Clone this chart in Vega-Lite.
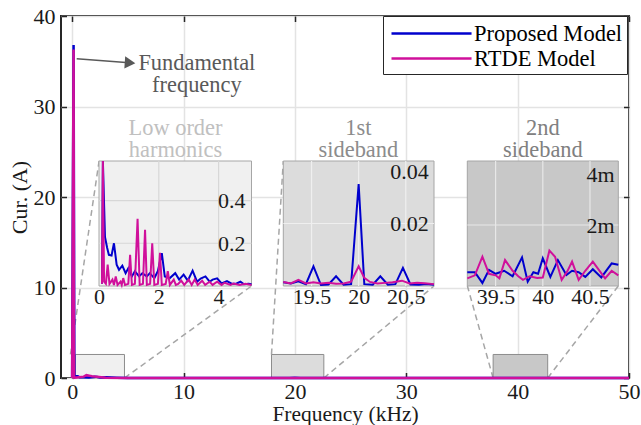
{
  "$schema": "https://vega.github.io/schema/vega-lite/v6.json",
  "width": 568,
  "height": 362,
  "autosize": {"type": "none"},
  "padding": {"left": 61, "top": 16, "right": 12, "bottom": 47},
  "background": "white",
  "config": {
    "view": {"stroke": "#262626", "strokeWidth": 2},
    "font": "Liberation Serif, Times New Roman, DejaVu Serif, serif",
    "axis": {"labelFont": "Liberation Serif, Times New Roman, DejaVu Serif, serif", "titleFont": "Liberation Serif, Times New Roman, DejaVu Serif, serif", "labelColor": "#1a1a1a", "titleColor": "#1a1a1a", "titleFontWeight": "normal"},
    "legend": {"labelFont": "Liberation Serif, Times New Roman, DejaVu Serif, serif"},
    "text": {"font": "Liberation Serif, Times New Roman, DejaVu Serif, serif"}
  },
  "datasets": {
    "main": [
      {"f": 0, "cur": 0.01, "model": "Proposed Model"},
      {"f": 0.13, "cur": 36.8, "model": "Proposed Model"},
      {"f": 0.2, "cur": 0.23, "model": "Proposed Model"},
      {"f": 0.5, "cur": 0.2, "model": "Proposed Model"},
      {"f": 0.67, "cur": 0.08, "model": "Proposed Model"},
      {"f": 1.0, "cur": 0.08, "model": "Proposed Model"},
      {"f": 1.5, "cur": 0.06, "model": "Proposed Model"},
      {"f": 2.1, "cur": 0.15, "model": "Proposed Model"},
      {"f": 2.5, "cur": 0.05, "model": "Proposed Model"},
      {"f": 3.1, "cur": 0.07, "model": "Proposed Model"},
      {"f": 4, "cur": 0.03, "model": "Proposed Model"},
      {"f": 5, "cur": 0.01, "model": "Proposed Model"},
      {"f": 10, "cur": 0.004, "model": "Proposed Model"},
      {"f": 19.5, "cur": 0.006, "model": "Proposed Model"},
      {"f": 20, "cur": 0.033, "model": "Proposed Model"},
      {"f": 20.5, "cur": 0.006, "model": "Proposed Model"},
      {"f": 30, "cur": 0.001, "model": "Proposed Model"},
      {"f": 40, "cur": 0.001, "model": "Proposed Model"},
      {"f": 50, "cur": 0.001, "model": "Proposed Model"},
      {"f": 0, "cur": 0.01, "model": "RTDE Model"},
      {"f": 0.13, "cur": 36.3, "model": "RTDE Model"},
      {"f": 0.17, "cur": 0.02, "model": "RTDE Model"},
      {"f": 1.04, "cur": 0.15, "model": "RTDE Model"},
      {"f": 1.29, "cur": 0.315, "model": "RTDE Model"},
      {"f": 1.54, "cur": 0.26, "model": "RTDE Model"},
      {"f": 1.78, "cur": 0.2, "model": "RTDE Model"},
      {"f": 2.04, "cur": 0.155, "model": "RTDE Model"},
      {"f": 3, "cur": 0.03, "model": "RTDE Model"},
      {"f": 5, "cur": 0.005, "model": "RTDE Model"},
      {"f": 20, "cur": 0.006, "model": "RTDE Model"},
      {"f": 50, "cur": 0.001, "model": "RTDE Model"}
    ],
    "low": [
      {"f": 0.1, "cur": 0.01, "model": "Proposed Model"},
      {"f": 0.13, "cur": 36.8, "model": "Proposed Model"},
      {"f": 0.2, "cur": 0.23, "model": "Proposed Model"},
      {"f": 0.27, "cur": 0.18, "model": "Proposed Model"},
      {"f": 0.33, "cur": 0.146, "model": "Proposed Model"},
      {"f": 0.42, "cur": 0.143, "model": "Proposed Model"},
      {"f": 0.5, "cur": 0.2, "model": "Proposed Model"},
      {"f": 0.59, "cur": 0.1, "model": "Proposed Model"},
      {"f": 0.67, "cur": 0.076, "model": "Proposed Model"},
      {"f": 0.78, "cur": 0.095, "model": "Proposed Model"},
      {"f": 0.89, "cur": 0.06, "model": "Proposed Model"},
      {"f": 0.98, "cur": 0.083, "model": "Proposed Model"},
      {"f": 1.1, "cur": 0.045, "model": "Proposed Model"},
      {"f": 1.2, "cur": 0.069, "model": "Proposed Model"},
      {"f": 1.34, "cur": 0.045, "model": "Proposed Model"},
      {"f": 1.45, "cur": 0.06, "model": "Proposed Model"},
      {"f": 1.6, "cur": 0.045, "model": "Proposed Model"},
      {"f": 1.7, "cur": 0.06, "model": "Proposed Model"},
      {"f": 1.85, "cur": 0.036, "model": "Proposed Model"},
      {"f": 1.97, "cur": 0.07, "model": "Proposed Model"},
      {"f": 2.1, "cur": 0.154, "model": "Proposed Model"},
      {"f": 2.2, "cur": 0.045, "model": "Proposed Model"},
      {"f": 2.37, "cur": 0.037, "model": "Proposed Model"},
      {"f": 2.55, "cur": 0.06, "model": "Proposed Model"},
      {"f": 2.68, "cur": 0.03, "model": "Proposed Model"},
      {"f": 2.83, "cur": 0.053, "model": "Proposed Model"},
      {"f": 2.97, "cur": 0.025, "model": "Proposed Model"},
      {"f": 3.13, "cur": 0.072, "model": "Proposed Model"},
      {"f": 3.28, "cur": 0.02, "model": "Proposed Model"},
      {"f": 3.4, "cur": 0.035, "model": "Proposed Model"},
      {"f": 3.56, "cur": 0.045, "model": "Proposed Model"},
      {"f": 3.7, "cur": 0.02, "model": "Proposed Model"},
      {"f": 3.8, "cur": 0.03, "model": "Proposed Model"},
      {"f": 3.95, "cur": 0.036, "model": "Proposed Model"},
      {"f": 4.1, "cur": 0.012, "model": "Proposed Model"},
      {"f": 4.28, "cur": 0.023, "model": "Proposed Model"},
      {"f": 4.45, "cur": 0.01, "model": "Proposed Model"},
      {"f": 4.6, "cur": 0.012, "model": "Proposed Model"},
      {"f": 4.73, "cur": 0.02, "model": "Proposed Model"},
      {"f": 4.85, "cur": 0.008, "model": "Proposed Model"},
      {"f": 5.0, "cur": 0.01, "model": "Proposed Model"},
      {"f": 5.1, "cur": 0.008, "model": "Proposed Model"},
      {"f": 0.1, "cur": 0.01, "model": "RTDE Model"},
      {"f": 0.13, "cur": 36.3, "model": "RTDE Model"},
      {"f": 0.17, "cur": 0.02, "model": "RTDE Model"},
      {"f": 0.23, "cur": 0.01, "model": "RTDE Model"},
      {"f": 0.29, "cur": 0.1, "model": "RTDE Model"},
      {"f": 0.35, "cur": 0.01, "model": "RTDE Model"},
      {"f": 0.45, "cur": 0.03, "model": "RTDE Model"},
      {"f": 0.5, "cur": 0.005, "model": "RTDE Model"},
      {"f": 0.56, "cur": 0.045, "model": "RTDE Model"},
      {"f": 0.62, "cur": 0.005, "model": "RTDE Model"},
      {"f": 0.72, "cur": 0.02, "model": "RTDE Model"},
      {"f": 0.76, "cur": 0.005, "model": "RTDE Model"},
      {"f": 0.81, "cur": 0.037, "model": "RTDE Model"},
      {"f": 0.87, "cur": 0.005, "model": "RTDE Model"},
      {"f": 0.98, "cur": 0.01, "model": "RTDE Model"},
      {"f": 1.04, "cur": 0.146, "model": "RTDE Model"},
      {"f": 1.1, "cur": 0.005, "model": "RTDE Model"},
      {"f": 1.2, "cur": 0.01, "model": "RTDE Model"},
      {"f": 1.29, "cur": 0.315, "model": "RTDE Model"},
      {"f": 1.36, "cur": 0.005, "model": "RTDE Model"},
      {"f": 1.47, "cur": 0.01, "model": "RTDE Model"},
      {"f": 1.54, "cur": 0.263, "model": "RTDE Model"},
      {"f": 1.6, "cur": 0.005, "model": "RTDE Model"},
      {"f": 1.71, "cur": 0.01, "model": "RTDE Model"},
      {"f": 1.78, "cur": 0.2, "model": "RTDE Model"},
      {"f": 1.85, "cur": 0.005, "model": "RTDE Model"},
      {"f": 1.97, "cur": 0.01, "model": "RTDE Model"},
      {"f": 2.04, "cur": 0.155, "model": "RTDE Model"},
      {"f": 2.1, "cur": 0.005, "model": "RTDE Model"},
      {"f": 2.23, "cur": 0.01, "model": "RTDE Model"},
      {"f": 2.3, "cur": 0.069, "model": "RTDE Model"},
      {"f": 2.37, "cur": 0.005, "model": "RTDE Model"},
      {"f": 2.5, "cur": 0.03, "model": "RTDE Model"},
      {"f": 2.57, "cur": 0.005, "model": "RTDE Model"},
      {"f": 2.65, "cur": 0.01, "model": "RTDE Model"},
      {"f": 2.75, "cur": 0.025, "model": "RTDE Model"},
      {"f": 2.85, "cur": 0.005, "model": "RTDE Model"},
      {"f": 3.0, "cur": 0.03, "model": "RTDE Model"},
      {"f": 3.1, "cur": 0.005, "model": "RTDE Model"},
      {"f": 3.2, "cur": 0.03, "model": "RTDE Model"},
      {"f": 3.3, "cur": 0.005, "model": "RTDE Model"},
      {"f": 3.45, "cur": 0.025, "model": "RTDE Model"},
      {"f": 3.55, "cur": 0.005, "model": "RTDE Model"},
      {"f": 3.7, "cur": 0.02, "model": "RTDE Model"},
      {"f": 3.8, "cur": 0.005, "model": "RTDE Model"},
      {"f": 3.95, "cur": 0.02, "model": "RTDE Model"},
      {"f": 4.1, "cur": 0.005, "model": "RTDE Model"},
      {"f": 4.2, "cur": 0.015, "model": "RTDE Model"},
      {"f": 4.4, "cur": 0.005, "model": "RTDE Model"},
      {"f": 4.5, "cur": 0.012, "model": "RTDE Model"},
      {"f": 4.7, "cur": 0.005, "model": "RTDE Model"},
      {"f": 4.9, "cur": 0.01, "model": "RTDE Model"},
      {"f": 5.1, "cur": 0.005, "model": "RTDE Model"}
    ],
    "sb1": [
      {"f": 19.2, "cur": 0.0012, "model": "Proposed Model"},
      {"f": 19.28, "cur": 0.0008, "model": "Proposed Model"},
      {"f": 19.36, "cur": 0.0015, "model": "Proposed Model"},
      {"f": 19.44, "cur": 0.0006, "model": "Proposed Model"},
      {"f": 19.52, "cur": 0.0063, "model": "Proposed Model"},
      {"f": 19.6, "cur": 0.0003, "model": "Proposed Model"},
      {"f": 19.68, "cur": 0.0005, "model": "Proposed Model"},
      {"f": 19.76, "cur": 0.0031, "model": "Proposed Model"},
      {"f": 19.84, "cur": 0.0004, "model": "Proposed Model"},
      {"f": 19.92, "cur": 0.0006, "model": "Proposed Model"},
      {"f": 20.0, "cur": 0.0326, "model": "Proposed Model"},
      {"f": 20.06, "cur": 0.0006, "model": "Proposed Model"},
      {"f": 20.15, "cur": 0.0004, "model": "Proposed Model"},
      {"f": 20.23, "cur": 0.0031, "model": "Proposed Model"},
      {"f": 20.31, "cur": 0.0004, "model": "Proposed Model"},
      {"f": 20.39, "cur": 0.0006, "model": "Proposed Model"},
      {"f": 20.47, "cur": 0.0058, "model": "Proposed Model"},
      {"f": 20.55, "cur": 0.0005, "model": "Proposed Model"},
      {"f": 20.64, "cur": 0.0004, "model": "Proposed Model"},
      {"f": 20.72, "cur": 0.0006, "model": "Proposed Model"},
      {"f": 20.8, "cur": 0.0004, "model": "Proposed Model"},
      {"f": 19.2, "cur": 0.0013, "model": "RTDE Model"},
      {"f": 19.28, "cur": 0.0008, "model": "RTDE Model"},
      {"f": 19.36, "cur": 0.002, "model": "RTDE Model"},
      {"f": 19.44, "cur": 0.0008, "model": "RTDE Model"},
      {"f": 19.52, "cur": 0.0012, "model": "RTDE Model"},
      {"f": 19.6, "cur": 0.0008, "model": "RTDE Model"},
      {"f": 19.68, "cur": 0.001, "model": "RTDE Model"},
      {"f": 19.76, "cur": 0.0007, "model": "RTDE Model"},
      {"f": 19.84, "cur": 0.0008, "model": "RTDE Model"},
      {"f": 19.92, "cur": 0.0014, "model": "RTDE Model"},
      {"f": 20.0, "cur": 0.0063, "model": "RTDE Model"},
      {"f": 20.06, "cur": 0.0026, "model": "RTDE Model"},
      {"f": 20.12, "cur": 0.0013, "model": "RTDE Model"},
      {"f": 20.2, "cur": 0.0008, "model": "RTDE Model"},
      {"f": 20.28, "cur": 0.001, "model": "RTDE Model"},
      {"f": 20.36, "cur": 0.0012, "model": "RTDE Model"},
      {"f": 20.46, "cur": 0.0017, "model": "RTDE Model"},
      {"f": 20.54, "cur": 0.0008, "model": "RTDE Model"},
      {"f": 20.62, "cur": 0.001, "model": "RTDE Model"},
      {"f": 20.7, "cur": 0.0009, "model": "RTDE Model"},
      {"f": 20.8, "cur": 0.0006, "model": "RTDE Model"}
    ],
    "sb2": [
      {"f": 39.2, "cur": 0.00045, "model": "Proposed Model"},
      {"f": 39.28, "cur": 0.00045, "model": "Proposed Model"},
      {"f": 39.36, "cur": 0.0001, "model": "Proposed Model"},
      {"f": 39.43, "cur": 0.00053, "model": "Proposed Model"},
      {"f": 39.5, "cur": 0.0004, "model": "Proposed Model"},
      {"f": 39.59, "cur": 0.0005, "model": "Proposed Model"},
      {"f": 39.68, "cur": 0.00032, "model": "Proposed Model"},
      {"f": 39.78, "cur": 0.00094, "model": "Proposed Model"},
      {"f": 39.84, "cur": 0.00014, "model": "Proposed Model"},
      {"f": 39.9, "cur": 0.00045, "model": "Proposed Model"},
      {"f": 39.95, "cur": 0.0004, "model": "Proposed Model"},
      {"f": 40.0, "cur": 0.00091, "model": "Proposed Model"},
      {"f": 40.08, "cur": 0.0003, "model": "Proposed Model"},
      {"f": 40.16, "cur": 0.00085, "model": "Proposed Model"},
      {"f": 40.25, "cur": 0.00036, "model": "Proposed Model"},
      {"f": 40.31, "cur": 0.0005, "model": "Proposed Model"},
      {"f": 40.38, "cur": 0.00045, "model": "Proposed Model"},
      {"f": 40.45, "cur": 0.0003, "model": "Proposed Model"},
      {"f": 40.53, "cur": 0.00055, "model": "Proposed Model"},
      {"f": 40.62, "cur": 0.00028, "model": "Proposed Model"},
      {"f": 40.73, "cur": 0.00074, "model": "Proposed Model"},
      {"f": 40.8, "cur": 0.0007, "model": "Proposed Model"},
      {"f": 39.2, "cur": 0.00025, "model": "RTDE Model"},
      {"f": 39.28, "cur": 0.00035, "model": "RTDE Model"},
      {"f": 39.36, "cur": 0.00096, "model": "RTDE Model"},
      {"f": 39.43, "cur": 0.0004, "model": "RTDE Model"},
      {"f": 39.5, "cur": 0.00035, "model": "RTDE Model"},
      {"f": 39.54, "cur": 0.00025, "model": "RTDE Model"},
      {"f": 39.6, "cur": 0.00085, "model": "RTDE Model"},
      {"f": 39.68, "cur": 0.0005, "model": "RTDE Model"},
      {"f": 39.74, "cur": 0.00032, "model": "RTDE Model"},
      {"f": 39.79, "cur": 0.0002, "model": "RTDE Model"},
      {"f": 39.86, "cur": 0.00032, "model": "RTDE Model"},
      {"f": 39.94, "cur": 0.00026, "model": "RTDE Model"},
      {"f": 40.0, "cur": 0.00028, "model": "RTDE Model"},
      {"f": 40.07, "cur": 0.00116, "model": "RTDE Model"},
      {"f": 40.13, "cur": 0.00096, "model": "RTDE Model"},
      {"f": 40.2, "cur": 0.0002, "model": "RTDE Model"},
      {"f": 40.26, "cur": 0.00048, "model": "RTDE Model"},
      {"f": 40.31, "cur": 0.0008, "model": "RTDE Model"},
      {"f": 40.38, "cur": 0.0002, "model": "RTDE Model"},
      {"f": 40.45, "cur": 0.0005, "model": "RTDE Model"},
      {"f": 40.53, "cur": 0.0008, "model": "RTDE Model"},
      {"f": 40.66, "cur": 0.00025, "model": "RTDE Model"},
      {"f": 40.73, "cur": 0.0005, "model": "RTDE Model"},
      {"f": 40.8, "cur": 0.00035, "model": "RTDE Model"}
    ],
    "connectors": [
      {"x1": -0.15, "y1": 2.6, "x2": 2.42, "y2": 23.98},
      {"x1": 4.7, "y1": 0, "x2": 16.11, "y2": 10.17},
      {"x1": 17.9, "y1": 2.6, "x2": 18.96, "y2": 23.98},
      {"x1": 22.6, "y1": 0, "x2": 32.5, "y2": 10.17},
      {"x1": 37.8, "y1": 0, "x2": 35.49, "y2": 10.17},
      {"x1": 42.7, "y1": 0, "x2": 49.04, "y2": 10.17}
    ],
    "zoomRegions": [
      {"band": "low", "lo": 0.3, "hi": 4.7},
      {"band": "sb1", "lo": 17.9, "hi": 22.6},
      {"band": "sb2", "lo": 37.8, "hi": 42.7}
    ]
  },
  "layer": [
    {
      "layer": [
        {
          "data": {"name": "connectors"},
          "mark": {"type": "rule", "color": "#a6a6a6", "strokeWidth": 1.5, "strokeDash": [6, 4]},
          "encoding": {
            "x": {"field": "x1", "type": "quantitative", "scale": {"domain": [-1, 50], "nice": false, "zero": false},
                  "axis": {"orient": "bottom", "offset": -5.5, "values": [0, 10, 20, 30, 40, 50], "labels": false, "grid": false, "domain": false, "ticks": true, "tickSize": 5.5, "tickColor": "#262626", "tickWidth": 1.5, "title": null}},
            "y": {"field": "y1", "type": "quantitative", "scale": {"domain": [0, 40], "nice": false, "zero": false},
                  "axis": {"orient": "left", "offset": -5.5, "values": [0, 10, 20, 30, 40], "labels": false, "grid": false, "domain": false, "ticks": true, "tickSize": 5.5, "tickColor": "#262626", "tickWidth": 1.5, "title": null}},
            "x2": {"field": "x2"},
            "y2": {"field": "y2"}
          }
        },
        {
          "data": {"name": "zoomRegions"},
          "mark": {"type": "rect", "stroke": "#8c8c8c", "strokeWidth": 1},
          "encoding": {
            "x": {"field": "lo", "type": "quantitative", "scale": {"domain": [-1, 50], "nice": false, "zero": false},
                  "axis": {"orient": "top", "offset": -5.5, "values": [0, 10, 20, 30, 40, 50], "labels": false, "grid": false, "domain": false, "ticks": true, "tickSize": 5.5, "tickColor": "#262626", "tickWidth": 1.5, "title": null}},
            "x2": {"field": "hi"},
            "y": {"datum": 0, "type": "quantitative", "scale": {"domain": [0, 40], "nice": false, "zero": false},
                  "axis": {"orient": "right", "offset": -5.5, "values": [0, 10, 20, 30, 40], "labels": false, "grid": false, "domain": false, "ticks": true, "tickSize": 5.5, "tickColor": "#262626", "tickWidth": 1.5, "title": null}},
            "y2": {"datum": 2.6},
            "fill": {"field": "band", "type": "nominal", "scale": {"domain": ["low", "sb1", "sb2"], "range": ["#f0f0f0", "#dcdcdc", "#c8c8c8"]}, "legend": null}
          }
        },
        {
          "data": {"name": "main"},
          "mark": {"type": "line", "strokeWidth": 2.5},
          "encoding": {
            "x": {"field": "f", "type": "quantitative", "scale": {"domain": [-1, 50], "nice": false, "zero": false},
                  "axis": {"orient": "bottom", "values": [0, 10, 20, 30, 40, 50], "format": "d", "grid": true, "gridColor": "#e3e3e3", "gridWidth": 1.5, "domain": false, "ticks": false, "labelPadding": 3.6, "labelFontSize": 22, "labelFlush": false, "title": "Frequency (kHz)", "titleFontSize": 21.5, "titlePadding": 0.5}},
            "y": {"field": "cur", "type": "quantitative", "scale": {"domain": [0, 40], "nice": false, "zero": false},
                  "axis": {"orient": "left", "values": [0, 10, 20, 30, 40], "format": "d", "grid": true, "gridColor": "#e3e3e3", "gridWidth": 1.5, "domain": false, "ticks": false, "labelPadding": 6, "labelFontSize": 22, "labelFlush": false, "title": "Cur. (A)", "titleFontSize": 22, "titlePadding": 2}},
            "color": {"field": "model", "type": "nominal",
                      "scale": {"domain": ["Proposed Model", "RTDE Model"], "range": ["#0000cd", "#d0109b"]},
                      "legend": {"orient": "none", "legendX": 322, "legendY": 0, "title": null, "symbolType": "M-0.75,0H5.92", "symbolSize": 576, "symbolStrokeWidth": 2.5, "labelFontSize": 22.5, "labelColor": "#000000", "labelOffset": 60, "labelLimit": 400, "padding": 4, "rowPadding": 0, "strokeColor": "#262626", "fillColor": "#ffffff"}}
          }
        },
        {
          "data": {"values": [{}]},
          "mark": {"type": "rule", "color": "#595959", "strokeWidth": 1.5},
          "encoding": {
            "x": {"datum": 0.41, "type": "quantitative", "scale": {"domain": [-1, 50], "nice": false, "zero": false}, "axis": null},
            "y": {"datum": 35.28, "type": "quantitative", "scale": {"domain": [0, 40], "nice": false, "zero": false}, "axis": null},
            "x2": {"datum": 5.13},
            "y2": {"datum": 34.84}
          }
        },
        {
          "data": {"values": [{}]},
          "mark": {"type": "point", "shape": "triangle-right", "size": 150, "angle": 4, "filled": true, "color": "#595959", "opacity": 1},
          "encoding": {
            "x": {"datum": 5.2, "type": "quantitative", "scale": {"domain": [-1, 50], "nice": false, "zero": false}, "axis": null},
            "y": {"datum": 34.83, "type": "quantitative", "scale": {"domain": [0, 40], "nice": false, "zero": false}, "axis": null}
          }
        },
        {
          "data": {"values": [{}]},
          "mark": {"type": "text", "text": ["Fundamental", "frequency"], "fontSize": 22.4, "color": "#595959", "align": "center", "baseline": "middle", "lineHeight": 22},
          "encoding": {
            "x": {"datum": 11.2, "type": "quantitative", "scale": {"domain": [-1, 50], "nice": false, "zero": false}, "axis": null},
            "y": {"datum": 34.85, "type": "quantitative", "scale": {"domain": [0, 40], "nice": false, "zero": false}, "axis": null}
          }
        },
        {
          "data": {"values": [{}]},
          "mark": {"type": "text", "text": ["Low order", "harmonics"], "fontSize": 22.4, "color": "#c0c0c0", "align": "center", "baseline": "middle", "lineHeight": 22},
          "encoding": {
            "x": {"datum": 9.28, "type": "quantitative", "scale": {"domain": [-1, 50], "nice": false, "zero": false}, "axis": null},
            "y": {"datum": 27.6, "type": "quantitative", "scale": {"domain": [0, 40], "nice": false, "zero": false}, "axis": null}
          }
        },
        {
          "data": {"values": [{}]},
          "mark": {"type": "text", "text": ["1st", "sideband"], "fontSize": 22.4, "color": "#8c8c8c", "align": "center", "baseline": "middle", "lineHeight": 22},
          "encoding": {
            "x": {"datum": 25.7, "type": "quantitative", "scale": {"domain": [-1, 50], "nice": false, "zero": false}, "axis": null},
            "y": {"datum": 27.6, "type": "quantitative", "scale": {"domain": [0, 40], "nice": false, "zero": false}, "axis": null}
          }
        },
        {
          "data": {"values": [{}]},
          "mark": {"type": "text", "text": ["2nd", "sideband"], "fontSize": 22.4, "color": "#808080", "align": "center", "baseline": "middle", "lineHeight": 22},
          "encoding": {
            "x": {"datum": 42.27, "type": "quantitative", "scale": {"domain": [-1, 50], "nice": false, "zero": false}, "axis": null},
            "y": {"datum": 27.6, "type": "quantitative", "scale": {"domain": [0, 40], "nice": false, "zero": false}, "axis": null}
          }
        }
      ],
      "resolve": {"axis": {"x": "independent", "y": "independent"}}
    },
    {
      "layer": [
        {
          "data": {"values": [{"band": "low"}]},
          "mark": {"type": "rect", "stroke": "#a6a6a6", "strokeWidth": 1},
          "encoding": {
            "x": {"datum": 0, "type": "quantitative", "scale": {"domain": [0, 5.1], "range": [38, 190.5], "nice": false, "zero": false},
                  "axis": {"orient": "bottom", "offset": -92, "values": [0, 2, 4], "format": "~g", "grid": false, "domain": false, "ticks": false, "labelPadding": 0.5, "labelFontSize": 22, "labelFlush": false, "title": null, "zindex": 1}},
            "x2": {"datum": 5.1},
            "y": {"datum": 0, "type": "quantitative", "scale": {"domain": [0, 0.585], "range": [270, 145], "nice": false, "zero": false, "clamp": true},
                  "axis": {"orient": "left", "offset": -184, "values": [0.2, 0.4], "format": "~g", "grid": false, "domain": false, "ticks": false, "labelPadding": 0, "labelFontSize": 22, "labelFlush": 5, "title": null, "zindex": 1}},
            "y2": {"datum": 0.585},
            "fill": {"field": "band", "type": "nominal", "scale": {"domain": ["low", "sb1", "sb2"], "range": ["#f0f0f0", "#dcdcdc", "#c8c8c8"]}, "legend": null}
          }
        },
        {
          "data": {"values": [{"g": 2}, {"g": 4}]},
          "mark": {"type": "rule", "color": "#d7d7d7", "strokeWidth": 1.2},
          "encoding": {
            "x": {"field": "g", "type": "quantitative", "scale": {"domain": [0, 5.1], "range": [38, 190.5], "nice": false, "zero": false}, "axis": null},
            "y": {"datum": 0, "type": "quantitative", "scale": {"domain": [0, 0.585], "range": [270, 145], "nice": false, "zero": false, "clamp": true}, "axis": null},
            "y2": {"datum": 0.585}
          }
        },
        {
          "data": {"values": [{"g": 0.2}, {"g": 0.4}]},
          "mark": {"type": "rule", "color": "#d7d7d7", "strokeWidth": 1.2},
          "encoding": {
            "y": {"field": "g", "type": "quantitative", "scale": {"domain": [0, 0.585], "range": [270, 145], "nice": false, "zero": false, "clamp": true}, "axis": null},
            "x": {"datum": 0, "type": "quantitative", "scale": {"domain": [0, 5.1], "range": [38, 190.5], "nice": false, "zero": false}, "axis": null},
            "x2": {"datum": 5.1}
          }
        },
        {
          "data": {"name": "low"},
          "mark": {"type": "line", "strokeWidth": 2},
          "encoding": {
            "x": {"field": "f", "type": "quantitative", "scale": {"domain": [0, 5.1], "range": [38, 190.5], "nice": false, "zero": false}, "axis": null},
            "y": {"field": "cur", "type": "quantitative", "scale": {"domain": [0, 0.585], "range": [270, 145], "nice": false, "zero": false, "clamp": true}, "axis": null},
            "color": {"field": "model", "type": "nominal",
                      "scale": {"domain": ["Proposed Model", "RTDE Model"], "range": ["#0000cd", "#d0109b"]},
                      "legend": {"orient": "none", "legendX": 322, "legendY": 0, "title": null, "symbolType": "M-0.75,0H5.92", "symbolSize": 576, "symbolStrokeWidth": 2.5, "labelFontSize": 22.5, "labelColor": "#000000", "labelOffset": 60, "labelLimit": 400, "padding": 4, "rowPadding": 0, "strokeColor": "#262626", "fillColor": "#ffffff"}}
          }
        }
      ],
      "resolve": {"axis": {"x": "independent", "y": "independent"}}
    },
    {
      "layer": [
        {
          "data": {"values": [{"band": "sb1"}]},
          "mark": {"type": "rect", "stroke": "#a6a6a6", "strokeWidth": 1},
          "encoding": {
            "x": {"datum": 19.2, "type": "quantitative", "scale": {"domain": [19.2, 20.8], "range": [222.3, 373], "nice": false, "zero": false},
                  "axis": {"orient": "bottom", "offset": -92, "values": [19.5, 20, 20.5], "format": "~g", "grid": false, "domain": false, "ticks": false, "labelPadding": 0.5, "labelFontSize": 22, "labelFlush": false, "title": null, "zindex": 1}},
            "x2": {"datum": 20.8},
            "y": {"datum": 0, "type": "quantitative", "scale": {"domain": [0, 0.04], "range": [270, 145], "nice": false, "zero": false, "clamp": true},
                  "axis": {"orient": "left", "offset": -367.3, "values": [0.02, 0.04], "format": "~g", "grid": false, "domain": false, "ticks": false, "labelPadding": 0, "labelFontSize": 22, "labelFlush": 5, "title": null, "zindex": 1}},
            "y2": {"datum": 0.04},
            "fill": {"field": "band", "type": "nominal", "scale": {"domain": ["low", "sb1", "sb2"], "range": ["#f0f0f0", "#dcdcdc", "#c8c8c8"]}, "legend": null}
          }
        },
        {
          "data": {"values": [{"g": 19.5}, {"g": 20}, {"g": 20.5}]},
          "mark": {"type": "rule", "color": "#efefef", "strokeWidth": 1.2},
          "encoding": {
            "x": {"field": "g", "type": "quantitative", "scale": {"domain": [19.2, 20.8], "range": [222.3, 373], "nice": false, "zero": false}, "axis": null},
            "y": {"datum": 0, "type": "quantitative", "scale": {"domain": [0, 0.04], "range": [270, 145], "nice": false, "zero": false, "clamp": true}, "axis": null},
            "y2": {"datum": 0.04}
          }
        },
        {
          "data": {"values": [{"g": 0.02}]},
          "mark": {"type": "rule", "color": "#efefef", "strokeWidth": 1.2},
          "encoding": {
            "y": {"field": "g", "type": "quantitative", "scale": {"domain": [0, 0.04], "range": [270, 145], "nice": false, "zero": false, "clamp": true}, "axis": null},
            "x": {"datum": 19.2, "type": "quantitative", "scale": {"domain": [19.2, 20.8], "range": [222.3, 373], "nice": false, "zero": false}, "axis": null},
            "x2": {"datum": 20.8}
          }
        },
        {
          "data": {"name": "sb1"},
          "mark": {"type": "line", "strokeWidth": 2},
          "encoding": {
            "x": {"field": "f", "type": "quantitative", "scale": {"domain": [19.2, 20.8], "range": [222.3, 373], "nice": false, "zero": false}, "axis": null},
            "y": {"field": "cur", "type": "quantitative", "scale": {"domain": [0, 0.04], "range": [270, 145], "nice": false, "zero": false, "clamp": true}, "axis": null},
            "color": {"field": "model", "type": "nominal",
                      "scale": {"domain": ["Proposed Model", "RTDE Model"], "range": ["#0000cd", "#d0109b"]},
                      "legend": {"orient": "none", "legendX": 322, "legendY": 0, "title": null, "symbolType": "M-0.75,0H5.92", "symbolSize": 576, "symbolStrokeWidth": 2.5, "labelFontSize": 22.5, "labelColor": "#000000", "labelOffset": 60, "labelLimit": 400, "padding": 4, "rowPadding": 0, "strokeColor": "#262626", "fillColor": "#ffffff"}}
          }
        }
      ],
      "resolve": {"axis": {"x": "independent", "y": "independent"}}
    },
    {
      "layer": [
        {
          "data": {"values": [{"band": "sb2"}]},
          "mark": {"type": "rect", "stroke": "#a6a6a6", "strokeWidth": 1},
          "encoding": {
            "x": {"datum": 39.2, "type": "quantitative", "scale": {"domain": [39.2, 40.8], "range": [406.3, 557.3], "nice": false, "zero": false},
                  "axis": {"orient": "bottom", "offset": -92, "values": [39.5, 40, 40.5], "format": "~g", "grid": false, "domain": false, "ticks": false, "labelPadding": 0.5, "labelFontSize": 22, "labelFlush": false, "title": null, "zindex": 1}},
            "x2": {"datum": 40.8},
            "y": {"datum": 0, "type": "quantitative", "scale": {"domain": [0, 0.0041], "range": [270, 145], "nice": false, "zero": false, "clamp": true},
                  "axis": {"orient": "left", "offset": -553, "values": [0.002, 0.004], "format": "~s", "grid": false, "domain": false, "ticks": false, "labelPadding": 0, "labelFontSize": 22, "labelFlush": 5, "title": null, "zindex": 1}},
            "y2": {"datum": 0.0041},
            "fill": {"field": "band", "type": "nominal", "scale": {"domain": ["low", "sb1", "sb2"], "range": ["#f0f0f0", "#dcdcdc", "#c8c8c8"]}, "legend": null}
          }
        },
        {
          "data": {"values": [{"g": 39.5}, {"g": 40}, {"g": 40.5}]},
          "mark": {"type": "rule", "color": "#e8e8e8", "strokeWidth": 1.2},
          "encoding": {
            "x": {"field": "g", "type": "quantitative", "scale": {"domain": [39.2, 40.8], "range": [406.3, 557.3], "nice": false, "zero": false}, "axis": null},
            "y": {"datum": 0, "type": "quantitative", "scale": {"domain": [0, 0.0041], "range": [270, 145], "nice": false, "zero": false, "clamp": true}, "axis": null},
            "y2": {"datum": 0.0041}
          }
        },
        {
          "data": {"values": [{"g": 0.002}]},
          "mark": {"type": "rule", "color": "#e8e8e8", "strokeWidth": 1.2},
          "encoding": {
            "y": {"field": "g", "type": "quantitative", "scale": {"domain": [0, 0.0041], "range": [270, 145], "nice": false, "zero": false, "clamp": true}, "axis": null},
            "x": {"datum": 39.2, "type": "quantitative", "scale": {"domain": [39.2, 40.8], "range": [406.3, 557.3], "nice": false, "zero": false}, "axis": null},
            "x2": {"datum": 40.8}
          }
        },
        {
          "data": {"name": "sb2"},
          "mark": {"type": "line", "strokeWidth": 2},
          "encoding": {
            "x": {"field": "f", "type": "quantitative", "scale": {"domain": [39.2, 40.8], "range": [406.3, 557.3], "nice": false, "zero": false}, "axis": null},
            "y": {"field": "cur", "type": "quantitative", "scale": {"domain": [0, 0.0041], "range": [270, 145], "nice": false, "zero": false, "clamp": true}, "axis": null},
            "color": {"field": "model", "type": "nominal",
                      "scale": {"domain": ["Proposed Model", "RTDE Model"], "range": ["#0000cd", "#d0109b"]},
                      "legend": {"orient": "none", "legendX": 322, "legendY": 0, "title": null, "symbolType": "M-0.75,0H5.92", "symbolSize": 576, "symbolStrokeWidth": 2.5, "labelFontSize": 22.5, "labelColor": "#000000", "labelOffset": 60, "labelLimit": 400, "padding": 4, "rowPadding": 0, "strokeColor": "#262626", "fillColor": "#ffffff"}}
          }
        }
      ],
      "resolve": {"axis": {"x": "independent", "y": "independent"}}
    }
  ],
  "resolve": {"scale": {"x": "independent", "y": "independent"}}
}
